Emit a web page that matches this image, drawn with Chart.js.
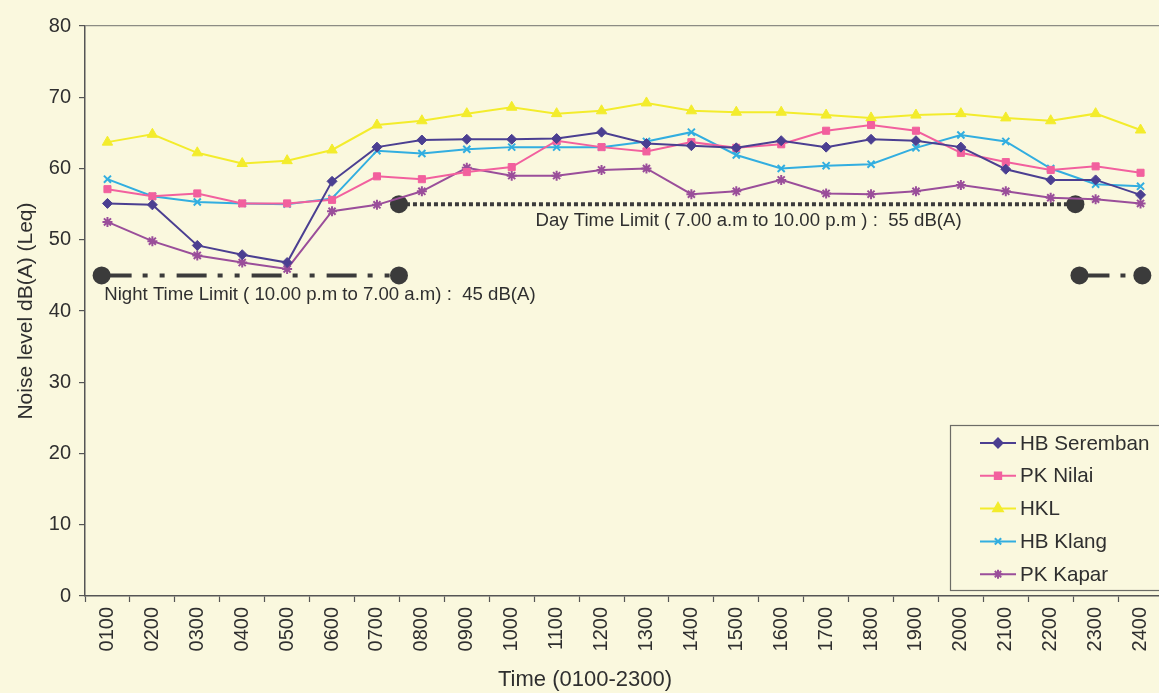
<!DOCTYPE html>
<html>
<head>
<meta charset="utf-8">
<script src="https://cdn.jsdelivr.net/npm/chart.js@4/dist/chart.umd.min.js"></script>
<style>
  html, body { margin: 0; padding: 0; background: #FAF8DE; overflow: hidden; }
  #wrap { width: 1172px; height: 693px; }
</style>
</head>
<body>
<div id="wrap"><canvas id="c" width="1172" height="693"></canvas></div>
<script>
// Hourly noise readings, dB(A) Leq
const hours = ['0100','0200','0300','0400','0500','0600','0700','0800','0900','1000','1100','1200',
               '1300','1400','1500','1600','1700','1800','1900','2000','2100','2200','2300','2400'];
const hbSeremban = [55.1, 54.9, 49.2, 47.9, 46.8, 58.2, 63.0, 64.0, 64.1, 64.1, 64.2, 65.1,
                    63.5, 63.2, 62.9, 63.9, 63.0, 64.1, 63.9, 63.0, 59.9, 58.4, 58.4, 56.3];
const pkNilai    = [57.1, 56.1, 56.5, 55.1, 55.1, 55.6, 58.9, 58.5, 59.5, 60.2, 63.9, 63.0,
                    62.4, 63.7, 62.9, 63.4, 65.3, 66.1, 65.3, 62.2, 60.9, 59.8, 60.3, 59.4];
const hkl        = [63.7, 64.8, 62.2, 60.7, 61.1, 62.6, 66.1, 66.7, 67.7, 68.6, 67.7, 68.1,
                    69.2, 68.1, 67.9, 67.9, 67.5, 67.1, 67.5, 67.7, 67.1, 66.7, 67.7, 65.4];
const hbKlang    = [58.5, 56.1, 55.3, 55.1, 55.0, 55.8, 62.5, 62.1, 62.7, 63.0, 63.0, 63.0,
                    63.8, 65.1, 61.9, 60.0, 60.4, 60.6, 62.9, 64.7, 63.8, 60.0, 57.8, 57.5];
const pkKapar    = [52.5, 49.8, 47.8, 46.8, 45.9, 54.0, 54.9, 56.8, 60.1, 59.0, 59.0, 59.8,
                    60.0, 56.4, 56.8, 58.4, 56.5, 56.4, 56.8, 57.7, 56.8, 55.9, 55.7, 55.1];

// Regulatory limits and the hour spans (category index units) their markers cover
const nightLimit = 45;
const dayLimit = 55;
const nightSpanEarly = [-0.13, 6.49];
const daySpan = [6.49, 21.55];
const nightSpanLate = [21.64, 23.04];

const yTicks = [0, 10, 20, 30, 40, 50, 60, 70, 80];

const FONT = '"Liberation Sans", Arial, Helvetica, sans-serif';
const TEXT = '#2f2f2f';
const LIMIT = '#3b3b3b';

function series(label, data, color, style, radius) {
  return {
    label, data, borderColor: color, backgroundColor: color,
    borderWidth: 2, pointStyle: style, pointRadius: radius,
    pointBorderWidth: style === 'crossRot' || style === 'star' ? 2 : 1,
    pointBorderColor: color, pointBackgroundColor: color,
    tension: 0, order: 1, xAxisID: 'x'
  };
}

function limitLine(value, span, dash) {
  return {
    label: '', isLimit: true,
    data: [{ x: span[0], y: value }, { x: span[1], y: value }],
    xAxisID: 'xl', borderColor: LIMIT, backgroundColor: LIMIT,
    borderWidth: 4, borderDash: dash, borderCapStyle: 'butt',
    pointStyle: 'circle', pointRadius: 9, pointBorderWidth: 0,
    pointBackgroundColor: LIMIT, order: 10
  };
}

const datasets = [
  series('HB Seremban', hbSeremban, '#4B3F91', 'rectRot', 5),
  series('PK Nilai', pkNilai, '#F2609E', 'rect', 5),
  series('HKL', hkl, '#F3EC2C', 'triangle', 6),
  series('HB Klang', hbKlang, '#32AEE0', 'crossRot', 5),
  series('PK Kapar', pkKapar, '#9A4E9A', 'star', 5),
  limitLine(nightLimit, nightSpanEarly, [30, 11, 5, 12, 5, 12]),
  limitLine(dayLimit, daySpan, [4, 3]),
  limitLine(nightLimit, nightSpanLate, [30, 11, 5, 12, 5, 12])
];

// Boxed legend with line + marker samples
const boxedLegend = {
  id: 'boxedLegend',
  afterDraw(chart) {
    const { ctx } = chart;
    const x0 = 950, y0 = 425, w = 222, h = 165;
    ctx.save();
    ctx.fillStyle = '#FAF8DE';
    ctx.fillRect(x0, y0, w, h);
    ctx.strokeStyle = '#6c6c66';
    ctx.lineWidth = 1.2;
    ctx.strokeRect(x0 + 0.5, y0 + 0.5, w, h);
    ctx.font = '20.6px ' + FONT;
    ctx.textBaseline = 'middle';
    chart.data.datasets.filter(d => !d.isLimit).forEach((ds, i) => {
      const y = y0 + 18 + i * 32.8;
      ctx.strokeStyle = ds.borderColor;
      ctx.lineWidth = 2;
      ctx.beginPath();
      ctx.moveTo(980, y);
      ctx.lineTo(1016, y);
      ctx.stroke();
      ctx.fillStyle = ds.borderColor;
      Chart.helpers.drawPoint(ctx, {
        pointStyle: ds.pointStyle, radius: ds.pointRadius - 0.5,
        borderWidth: ds.pointBorderWidth, rotation: 0
      }, 998, y);
      ctx.fillStyle = TEXT;
      ctx.fillText(ds.label, 1020, y + 1);
    });
    ctx.restore();
  }
};

// Limit captions and the x-axis title
const captions = {
  id: 'captions',
  afterDraw(chart) {
    const { ctx } = chart;
    const xs = chart.scales.xl, ys = chart.scales.y;
    ctx.save();
    ctx.fillStyle = TEXT;
    ctx.font = '18.6px ' + FONT;
    ctx.textBaseline = 'middle';
    ctx.textAlign = 'left';
    ctx.fillText('Night Time Limit ( 10.00 p.m to 7.00 a.m) :  45 dB(A)',
                 xs.getPixelForValue(-0.07), ys.getPixelForValue(42.2));
    ctx.fillText('Day Time Limit ( 7.00 a.m to 10.00 p.m ) :  55 dB(A)',
                 xs.getPixelForValue(9.53), ys.getPixelForValue(52.6));
    ctx.font = '22px ' + FONT;
    ctx.textAlign = 'center';
    ctx.fillText('Time (0100-2300)', 585, 680);
    ctx.restore();
  }
};

new Chart(document.getElementById('c'), {
  type: 'line',
  data: { labels: hours, datasets },
  options: {
    responsive: false,
    animation: false,
    devicePixelRatio: 1,
    layout: { padding: { top: 26, right: 6, left: 0, bottom: 0 } },
    plugins: { legend: { display: false }, tooltip: { enabled: false } },
    scales: {
      x: {
        type: 'category',
        offset: true,
        position: 'bottom',
        grid: { offset: true, drawOnChartArea: false, tickLength: 6, tickColor: '#555', tickWidth: 1.2 },
        border: { color: '#555', width: 1.5 },
        ticks: {
          autoSkip: false, maxRotation: 90, minRotation: 90, padding: 5,
          color: TEXT, font: { family: FONT, size: 20 }
        },
        afterFit(scale) { scale.height = 97; }
      },
      xl: {
        type: 'linear', display: false, min: -0.5, max: 23.5, position: 'bottom'
      },
      y: {
        min: 0, max: 80,
        afterBuildTicks(scale) { scale.ticks = yTicks.map(v => ({ value: v })); },
        grid: {
          color: c => (c.tick && c.tick.value === 80 ? '#8c8c84' : 'rgba(0,0,0,0)'),
          lineWidth: 1.2, tickLength: 6, tickColor: '#555', tickWidth: 1.2
        },
        border: { color: '#555', width: 1.5 },
        ticks: { padding: 8, color: TEXT, font: { family: FONT, size: 20 } },
        title: {
          display: true, text: 'Noise level dB(A) (Leq)', color: TEXT,
          font: { family: FONT, size: 21 }, padding: { top: 14, bottom: 0 }
        },
        afterFit(scale) { scale.width = 85; }
      }
    }
  },
  plugins: [boxedLegend, captions]
});
</script>
</body>
</html>
